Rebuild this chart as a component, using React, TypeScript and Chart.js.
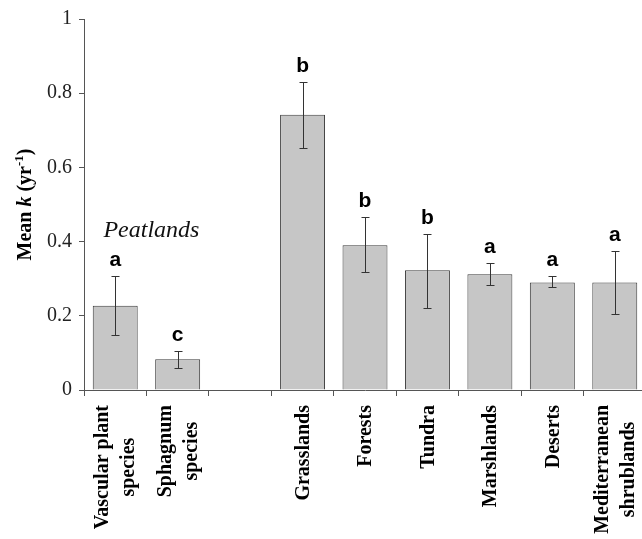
import React, { useEffect, useRef } from "react";
import { Chart, registerables } from "chart.js";
Chart.register(...registerables);

const categories: string[][] = [
  ["Vascular plant", "species"],
  ["Sphagnum", "species"],
  [""],
  ["Grasslands"],
  ["Forests"],
  ["Tundra"],
  ["Marshlands"],
  ["Deserts"],
  ["Mediterranean", "shrublands"],
];
const meanK: (number | null)[] = [0.227, 0.083, null, 0.742, 0.39, 0.323, 0.312, 0.29, 0.29];
const errUpper: (number | null)[] = [0.307, 0.104, null, 0.829, 0.467, 0.421, 0.341, 0.307, 0.376];
const errLower: (number | null)[] = [0.147, 0.059, null, 0.651, 0.317, 0.221, 0.283, 0.277, 0.206];
const groupLetters: string[] = ["a", "c", "", "b", "b", "b", "a", "a", "a"];
const yMin = 0;
const yMax = 1;
const yStep = 0.2;
const groupNote = "Peatlands";
const yTitleParts = [
  { text: "Mean ", kind: "normal" },
  { text: "k", kind: "italic" },
  { text: " (yr", kind: "normal" },
  { text: "-1", kind: "sup" },
  { text: ")", kind: "normal" },
];

const SERIF = '"Liberation Serif", "Times New Roman", serif';
const SANS = '"Liberation Sans", Arial, sans-serif';

const overlayPlugin = {
  id: "overlay",
  afterDatasetsDraw(chart: any) {
    const ctx = chart.ctx;
    const xs = chart.scales.x;
    const ys = chart.scales.y;
    ctx.save();
    // error bars
    ctx.strokeStyle = "#333";
    ctx.lineWidth = 1;
    for (let i = 0; i < meanK.length; i++) {
      const hi = errUpper[i];
      const lo = errLower[i];
      if (hi == null || lo == null) continue;
      const x = Math.round(xs.getPixelForValue(i)) + 0.5;
      const yh = Math.round(ys.getPixelForValue(hi)) + 0.5;
      const yl = Math.round(ys.getPixelForValue(lo)) + 0.5;
      ctx.beginPath();
      ctx.moveTo(x, yh);
      ctx.lineTo(x, yl);
      ctx.moveTo(x - 4, yh);
      ctx.lineTo(x + 4, yh);
      ctx.moveTo(x - 4, yl);
      ctx.lineTo(x + 4, yl);
      ctx.stroke();
    }
    // letters
    ctx.fillStyle = "#000";
    ctx.font = `bold 21px ${SANS}`;
    ctx.textAlign = "center";
    ctx.textBaseline = "alphabetic";
    for (let i = 0; i < groupLetters.length; i++) {
      const hi = errUpper[i];
      if (hi == null || !groupLetters[i]) continue;
      const x = xs.getPixelForValue(i);
      const y = ys.getPixelForValue(hi) - 10;
      ctx.fillText(groupLetters[i], x, y);
    }
    // group note
    ctx.font = `italic 24px ${SERIF}`;
    ctx.fillStyle = "#111";
    ctx.textBaseline = "middle";
    const nx = (xs.getPixelForValue(0) + xs.getPixelForValue(1)) / 2 + 5;
    ctx.fillText(groupNote, nx, ys.getPixelForValue(0.43));
    ctx.restore();
  },
  afterDraw(chart: any) {
    const ctx = chart.ctx;
    const xs = chart.scales.x;
    const area = chart.chartArea;
    ctx.save();
    // x labels, rotated
    ctx.fillStyle = "#000";
    ctx.font = `bold 20px ${SERIF}`;
    ctx.textBaseline = "middle";
    const top = xs.top + 15;
    const lh = 26;
    for (let i = 0; i < categories.length; i++) {
      const lines = categories[i];
      const cx = xs.getPixelForValue(i);
      const maxW = Math.max(...lines.map((l) => ctx.measureText(l).width));
      const n = lines.length;
      lines.forEach((line, j) => {
        ctx.save();
        ctx.translate(cx + (j - (n - 1) / 2) * lh, top + maxW / 2);
        ctx.rotate(-Math.PI / 2);
        ctx.textAlign = "center";
        ctx.fillText(line, 0, 1);
        ctx.restore();
      });
    }
    // y title
    const fontFor = (kind: string) =>
      kind === "italic"
        ? `italic bold 20px ${SERIF}`
        : kind === "sup"
        ? `bold 13px ${SERIF}`
        : `bold 20px ${SERIF}`;
    let total = 0;
    for (const p of yTitleParts) {
      ctx.font = fontFor(p.kind);
      total += ctx.measureText(p.text).width;
    }
    const cy = (area.top + area.bottom) / 2;
    ctx.translate(24, cy);
    ctx.rotate(-Math.PI / 2);
    ctx.textAlign = "left";
    ctx.textBaseline = "alphabetic";
    let x = -total / 2;
    for (const p of yTitleParts) {
      ctx.font = fontFor(p.kind);
      ctx.fillText(p.text, x, p.kind === "sup" ? -1 : 7);
      x += ctx.measureText(p.text).width;
    }
    ctx.restore();
  },
};

export default function App() {
  const ref = useRef<HTMLCanvasElement>(null);
  useEffect(() => {
    if (!ref.current) return;
    const chart = new Chart(ref.current, {
      type: "bar",
      data: {
        labels: categories.map((c) => c.join(" ")),
        datasets: [
          {
            data: meanK as any,
            backgroundColor: "#c6c6c6",
            borderColor: "#3c3c3c",
            borderWidth: 1,
            categoryPercentage: 1,
            barPercentage: 0.72,
          },
        ],
      },
      options: {
        animation: false,
        responsive: false,
        layout: { padding: { top: 11, right: 2, left: 0, bottom: 0 } },
        plugins: { legend: { display: false }, tooltip: { enabled: false } },
        scales: {
          x: {
            grid: { drawOnChartArea: false, drawTicks: true, tickLength: 6, color: "#555", offset: true },
            border: { color: "#555", width: 1 },
            ticks: { display: false },
            afterFit: (s: any) => {
              s.height = 149;
            },
          },
          y: {
            min: yMin,
            max: yMax,
            ticks: {
              stepSize: yStep,
              font: { family: SERIF, size: 20 },
              color: "#222",
              padding: 7,
              callback: (v: any) => String(Number(Number(v).toFixed(2))),
            },
            grid: { drawOnChartArea: false, tickLength: 5, color: "#555" },
            border: { color: "#555", width: 1 },
            afterFit: (s: any) => {
              s.width = 84;
            },
          },
        },
      },
      plugins: [overlayPlugin],
    });
    return () => chart.destroy();
  }, []);
  return (
    <div style={{ position: "absolute", left: 0, top: 0, width: 642, height: 539, overflow: "hidden", background: "#fff" }}>
      <canvas ref={ref} width={648} height={539} style={{ display: "block" }} />
    </div>
  );
}
